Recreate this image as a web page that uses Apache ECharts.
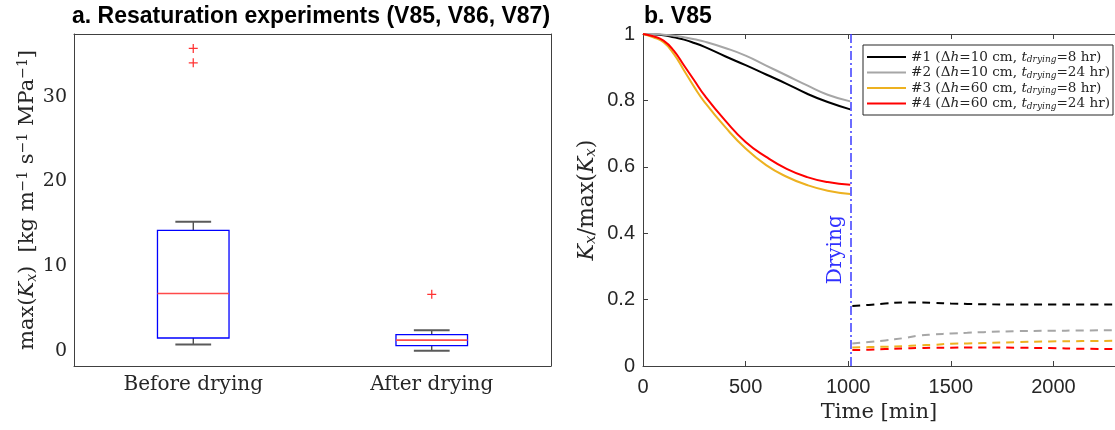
<!DOCTYPE html>
<html>
<head>
<meta charset="utf-8">
<script src="https://cdn.jsdelivr.net/npm/echarts@6/dist/echarts.min.js"></script>
<style>
  html, body { margin: 0; padding: 0; background: #fff; }
  #chart { width: 1115px; height: 430px; }
</style>
</head>
<body>
<div id="chart"></div>
<script>
// ---- panel a: box statistics ----
var boxCategories = ['Before drying', 'After drying'];
var whiskerLow = [0.79, 0.05];
var quartile1 = [1.55, 0.65];
var medians = [6.8, 1.3];
var quartile3 = [14.25, 1.95];
var whiskerHigh = [15.25, 2.48];
var outlierCat = [0, 0, 1];
var outlierVal = [35.7, 34.0, 6.7];
var boxYTicks = [0, 10, 20, 30];

// ---- panel b: normalised conductivity, V85 ----
var timeBefore = [0, 50, 100, 150, 200, 250, 300, 400, 500, 600, 700, 800, 900, 1010];
var k1Before = [1, 0.999, 0.996, 0.99, 0.983, 0.973, 0.961, 0.933, 0.906, 0.878, 0.85, 0.82, 0.795, 0.773];
var k2Before = [1, 1, 0.998, 0.995, 0.99, 0.984, 0.977, 0.958, 0.935, 0.905, 0.875, 0.845, 0.817, 0.797];
var k3Before = [1, 0.99, 0.975, 0.94, 0.89, 0.84, 0.795, 0.72, 0.655, 0.605, 0.57, 0.545, 0.528, 0.518];
var k4Before = [1, 0.993, 0.98, 0.95, 0.905, 0.86, 0.815, 0.74, 0.675, 0.63, 0.594, 0.569, 0.554, 0.546];

var timeAfter = [1020, 1100, 1180, 1270, 1340, 1420, 1500, 1580, 1660, 1820, 1980, 2140, 2300];
var k1After = [0.181, 0.184, 0.188, 0.191, 0.191, 0.19, 0.188, 0.187, 0.186, 0.185, 0.185, 0.185, 0.185];
var k2After = [0.068, 0.072, 0.077, 0.084, 0.091, 0.095, 0.098, 0.1, 0.102, 0.105, 0.106, 0.107, 0.108];
var k3After = [0.056, 0.057, 0.058, 0.06, 0.062, 0.064, 0.067, 0.068, 0.069, 0.072, 0.074, 0.075, 0.076];
var k4After = [0.048, 0.049, 0.051, 0.053, 0.054, 0.055, 0.055, 0.056, 0.056, 0.055, 0.054, 0.052, 0.051];

var dryingTime = 1010;
var timeTicks = [0, 500, 1000, 1500, 2000];
var curveNames = ['#1', '#2', '#3', '#4'];
var curveDh = [10, 10, 60, 60];
var curveTdry = [8, 24, 8, 24];

var curveColors = ['#000000', '#a6a6a6', '#edb120', '#ff0000'];
var beforeSets = [k1Before, k2Before, k3Before, k4Before];
var afterSets = [k1After, k2After, k3After, k4After];

var SERIF = 'DejaVu Serif';
var SANS = 'Liberation Sans';
var AX = '#404040';
var TXT = '#262626';

function pairs(xs, ys) {
    return xs.map(function (x, i) { return [x, ys[i]]; });
}

function renderBox(params, api) {
    var c = api.value(0);
    var band = api.size([1, 0])[0];
    var half = band * 0.15, cap = band * 0.075;
    var pLow = api.coord([c, api.value(1)]);
    var pQ1 = api.coord([c, api.value(2)]);
    var pMed = api.coord([c, api.value(3)]);
    var pQ3 = api.coord([c, api.value(4)]);
    var pHigh = api.coord([c, api.value(5)]);
    var x = pMed[0];
    var whisk = { stroke: '#303030', lineWidth: 1.2 };
    var capStyle = { stroke: '#5a5a5a', lineWidth: 2 };
    return {
        type: 'group',
        children: [
            { type: 'line', shape: { x1: x, y1: pQ3[1], x2: x, y2: pHigh[1] }, style: whisk },
            { type: 'line', shape: { x1: x, y1: pQ1[1], x2: x, y2: pLow[1] }, style: whisk },
            { type: 'line', shape: { x1: x - cap, y1: pHigh[1], x2: x + cap, y2: pHigh[1] }, style: capStyle },
            { type: 'line', shape: { x1: x - cap, y1: pLow[1], x2: x + cap, y2: pLow[1] }, style: capStyle },
            { type: 'rect', shape: { x: x - half, y: pQ3[1], width: 2 * half, height: pQ1[1] - pQ3[1] },
              style: { fill: 'none', stroke: '#0000ff', lineWidth: 1.3 } },
            { type: 'line', shape: { x1: x - half, y1: pMed[1], x2: x + half, y2: pMed[1] },
              style: { stroke: '#ff4a4a', lineWidth: 1.6 } }
        ]
    };
}

var lineAx = { show: true, onZero: false, lineStyle: { color: AX, width: 1 } };
function ticks(values) {
    var t = { inside: true, length: 5, lineStyle: { color: AX } };
    if (values) t.customValues = values;
    return t;
}

var series = [
    {
        type: 'custom',
        xAxisIndex: 0, yAxisIndex: 0,
        renderItem: renderBox,
        encode: { x: 0, y: [1, 2, 3, 4, 5] },
        data: boxCategories.map(function (c, i) {
            return [i, whiskerLow[i], quartile1[i], medians[i], quartile3[i], whiskerHigh[i]];
        })
    },
    {
        type: 'scatter',
        xAxisIndex: 0, yAxisIndex: 0,
        symbol: 'path://M4.3,0H5.7V4.3H10V5.7H5.7V10H4.3V5.7H0V4.3H4.3Z',
        symbolSize: 9,
        itemStyle: { color: '#ff0000' },
        data: outlierCat.map(function (c, i) { return [c, outlierVal[i]]; })
    }
];

curveNames.forEach(function (name, i) {
    var s = {
        name: name,
        type: 'line',
        xAxisIndex: 2, yAxisIndex: 2,
        color: curveColors[i],
        showSymbol: false,
        symbol: 'none',
        smooth: 0.5,
        lineStyle: { color: curveColors[i], width: 2 },
        data: pairs(timeBefore, beforeSets[i])
    };
    if (i === 0) {
        s.markLine = {
            silent: true,
            symbol: ['none', 'none'],
            label: { show: false },
            lineStyle: { color: '#3c3cff', type: [9, 3, 2, 3], width: 1.5 },
            data: [
                { xAxis: dryingTime },
                [
                    {
                        coord: [dryingTime, 0],
                        lineStyle: { color: 'rgba(0,0,0,0)', width: 0 },
                        label: {
                            show: true, position: 'insideMiddleTop', formatter: 'Drying',
                            distance: 4, color: '#3030ff', fontFamily: SERIF, fontSize: 20
                        }
                    },
                    { coord: [dryingTime, 0.7] }
                ]
            ]
        };
    }
    series.push(s);
});

curveNames.forEach(function (name, i) {
    series.push({
        name: name + ' after drying',
        type: 'line',
        xAxisIndex: 2, yAxisIndex: 2,
        color: curveColors[i],
        showSymbol: false,
        symbol: 'none',
        smooth: 0.5,
        lineStyle: { color: curveColors[i], width: 2, type: [8, 6] },
        data: pairs(timeAfter, afterSets[i])
    });
});

var option = {
    animation: false,
    backgroundColor: '#ffffff',
    title: [
        {
            text: 'a. Resaturation experiments (V85, V86, V87)',
            left: 311, top: 5, textAlign: 'center', padding: 0,
            textStyle: { fontFamily: SANS, fontWeight: 'bold', fontSize: 23, color: '#000' }
        },
        {
            text: 'b. V85',
            left: 644, top: 5, padding: 0,
            textStyle: { fontFamily: SANS, fontWeight: 'bold', fontSize: 23, color: '#000' }
        }
    ],
    legend: {
        data: curveNames,
        orient: 'vertical',
        left: 863, top: 45,
        icon: 'rect',
        itemWidth: 39, itemHeight: 2,
        itemGap: 1,
        selectedMode: false,
        backgroundColor: '#fff',
        borderColor: '#262626',
        borderWidth: 1,
        borderRadius: 0,
        padding: [5, 3, 4, 4],
        formatter: function (name) {
            var i = curveNames.indexOf(name);
            return '{n|' + name + ' (Δ}{i|h}{n|=' + curveDh[i] + ' cm, }{i|t}{s|drying}{n|=' + curveTdry[i] + ' hr)}';
        },
        textStyle: {
            color: TXT,
            rich: {
                n: { fontFamily: SERIF, fontSize: 13.6, color: TXT, lineHeight: 16 },
                i: { fontFamily: SERIF, fontSize: 13.6, fontStyle: 'italic', color: TXT, lineHeight: 16 },
                s: { fontFamily: SERIF, fontSize: 9, fontStyle: 'italic', color: TXT, padding: [6, 0, 0, 0] }
            }
        }
    },
    grid: [
        { left: 74, top: 34, width: 477, height: 332 },
        { left: 643, top: 34, width: 477, height: 332 }
    ],
    xAxis: [
        {
            type: 'category', gridIndex: 0, data: boxCategories, position: 'bottom',
            axisLine: lineAx,
            axisTick: { inside: true, length: 5, alignWithLabel: true, lineStyle: { color: AX } },
            axisLabel: { margin: 9, fontFamily: SERIF, fontSize: 20, color: TXT },
            splitLine: { show: false }
        },
        {
            type: 'category', gridIndex: 0, data: boxCategories, position: 'top',
            axisLine: lineAx,
            axisTick: { inside: true, length: 5, alignWithLabel: true, lineStyle: { color: AX } },
            axisLabel: { show: false },
            splitLine: { show: false }
        },
        {
            type: 'value', gridIndex: 1, position: 'bottom', min: 0, max: 2300,
            name: 'Time [min]', nameLocation: 'middle', nameGap: 36,
            nameTextStyle: { fontFamily: SERIF, fontSize: 21, color: TXT },
            axisLine: lineAx,
            axisTick: ticks(timeTicks),
            axisLabel: {
                margin: 11, fontFamily: SANS, fontSize: 20, color: TXT, customValues: timeTicks,
                formatter: function (v) { return String(v); }
            },
            splitLine: { show: false }
        },
        {
            type: 'value', gridIndex: 1, position: 'top', min: 0, max: 2300,
            axisLine: lineAx,
            axisTick: ticks(timeTicks),
            axisLabel: { show: false },
            splitLine: { show: false }
        }
    ],
    yAxis: [
        {
            type: 'value', gridIndex: 0, position: 'left', min: -1.75, max: 37.4,
            name: '{n|max(}{i|K}{s|x}{n|)  [kg m}{p|−1}{n| s}{p|−1}{n| MPa}{p|−1}{n|]}',
            nameLocation: 'middle', nameGap: 33,
            nameTextStyle: {
                rich: {
                    n: { fontFamily: SERIF, fontSize: 21, color: TXT },
                    i: { fontFamily: SERIF, fontSize: 21, fontStyle: 'italic', color: TXT },
                    s: { fontFamily: SERIF, fontSize: 14, fontStyle: 'italic', color: TXT, padding: [8, 0, 0, 0] },
                    p: { fontFamily: SERIF, fontSize: 14, color: TXT, padding: [0, 0, 10, 0] }
                }
            },
            axisLine: lineAx,
            axisTick: ticks(boxYTicks),
            axisLabel: { margin: 7, fontFamily: SERIF, fontSize: 19, color: TXT, customValues: boxYTicks },
            splitLine: { show: false }
        },
        {
            type: 'value', gridIndex: 0, position: 'right', min: -1.75, max: 37.4,
            axisLine: lineAx,
            axisTick: ticks(boxYTicks),
            axisLabel: { show: false },
            splitLine: { show: false }
        },
        {
            type: 'value', gridIndex: 1, position: 'left', min: 0, max: 1, interval: 0.2,
            name: '{i|K}{s|x}{n|/max(}{i|K}{s|x}{n|)}',
            nameLocation: 'middle', nameGap: 44,
            nameTextStyle: {
                rich: {
                    n: { fontFamily: SERIF, fontSize: 22, color: TXT },
                    i: { fontFamily: SERIF, fontSize: 22, fontStyle: 'italic', color: TXT },
                    s: { fontFamily: SERIF, fontSize: 15, fontStyle: 'italic', color: TXT, padding: [8, 0, 0, 0] }
                }
            },
            axisLine: lineAx,
            axisTick: ticks(null),
            axisLabel: { margin: 8, fontFamily: SANS, fontSize: 20, color: TXT },
            splitLine: { show: false }
        }
    ],
    series: series
};

var chart = echarts.init(document.getElementById('chart'));
chart.setOption(option);
</script>
</body>
</html>
